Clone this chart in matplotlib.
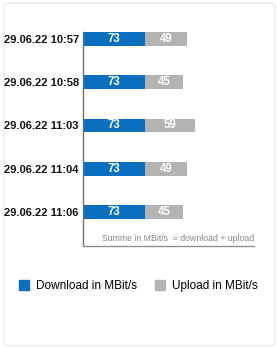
import matplotlib
matplotlib.use("Agg")
import matplotlib.pyplot as plt
from matplotlib.lines import Line2D
from matplotlib.patches import FancyBboxPatch

# ── data ─────────────────────────────────────────────
timestamps = ["29.06.22 10:57", "29.06.22 10:58", "29.06.22 11:03",
              "29.06.22 11:04", "29.06.22 11:06"]
download = [73, 73, 73, 73, 73]
upload = [49, 45, 59, 49, 45]

BLUE = "#0A6FBF"
GREY = "#B3B3B3"

plt.rcParams["font.family"] = ["Liberation Sans", "DejaVu Sans"]

W, H = 277, 349
fig = plt.figure(figsize=(W / 100, H / 100), dpi=100)

# card background with faint border (behind everything)
card = FancyBboxPatch((4 / W, 3 / H), 271 / W, 343 / H,
                      boxstyle="round,pad=0,rounding_size=0.015",
                      transform=fig.transFigure, facecolor="white",
                      edgecolor="#ececec", lw=1, zorder=-10)
fig.patches.append(card)

ax = fig.add_axes([83 / W, 1 - 246 / H, 171 / W, 214 / H])
ax.set_facecolor("none")
ax.set_zorder(5)

ypos = list(range(len(timestamps)))
bh = 0.32
ax.barh(ypos, download, height=bh, color=BLUE)
ax.barh(ypos, upload, left=download, height=bh, color=GREY)

for y, d, u in zip(ypos, download, upload):
    ax.text(d / 2, y, str(d), ha="center", va="center", color="white",
            fontsize=8.3, fontweight="bold")
    ax.text(d + u / 2, y, str(u), ha="center", va="center", color="white",
            fontsize=8.3, fontweight="bold")

ax.set_xlim(0, 201)
ax.set_ylim(4.786, -0.16)
ax.set_yticks(ypos)
ax.set_yticklabels(timestamps, fontsize=8, fontweight="bold", color="#111111")
ax.tick_params(axis="y", length=0, pad=3)
ax.set_xticks([])

for s in ("top", "right"):
    ax.spines[s].set_visible(False)
ax.spines["left"].set_color("#707070")
ax.spines["bottom"].set_color("#909090")
ax.spines["left"].set_linewidth(1)
ax.spines["bottom"].set_linewidth(1)

ax.text(1.0, 0.037, "Summe in MBit/s  = download + upload",
        transform=ax.transAxes, ha="right", va="center",
        fontsize=6.3, color="#888888")

handles = [
    Line2D([], [], marker="s", linestyle="none", markersize=6.5,
           markerfacecolor=BLUE, markeredgecolor=BLUE),
    Line2D([], [], marker="s", linestyle="none", markersize=6.5,
           markerfacecolor=GREY, markeredgecolor=GREY),
]
fig.legend(handles, ["Download in MBit/s", "Upload in MBit/s"],
           loc="center", bbox_to_anchor=(0.5, 1 - 286 / H), ncol=2,
           frameon=False, fontsize=8.5, handlelength=0.8,
           handletextpad=0.6, columnspacing=1.6, borderaxespad=0)

fig.savefig("out.png", dpi=100)
